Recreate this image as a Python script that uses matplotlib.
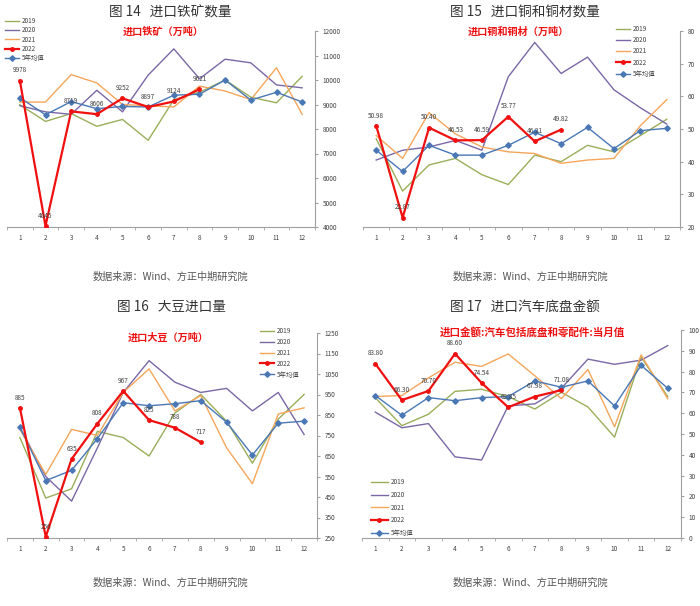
import matplotlib
matplotlib.use("Agg")
import matplotlib.pyplot as plt
import numpy as np

plt.rcParams['font.family'] = ['Noto Sans CJK SC', 'DejaVu Sans']

months = list(range(1, 13))
month_labels = [str(m) for m in months]
series_names = ['2019', '2020', '2021', '2022', '5年均值']

# Panel 14: iron ore imports (万吨)
ore_2019 = [8990, 8310, 8630, 8110, 8390, 7540, 9200, 9500, 10000, 9300, 9070, 10150]
ore_2020 = [8950, 8700, 8600, 9580, 8700, 10200, 11270, 10050, 10850, 10700, 9800, 9680]
ore_2021 = [9100, 9100, 10220, 9880, 9000, 8950, 8900, 9750, 9550, 9200, 10500, 8600]
ore_2022 = [9978, 4045, 8719, 8606, 9252, 8897, 9124, 9621]
ore_avg = [9280, 8580, 9120, 8830, 8920, 8900, 9380, 9420, 10000, 9180, 9500, 9100]

# Panel 15: copper imports (万吨)
cu_2019 = [47, 31, 39, 41, 36, 33, 42, 40, 45, 43, 48, 53]
cu_2020 = [40.5, 43.5, 44.5, 46.5, 43.5, 66, 76.5, 67, 72, 62, 56.5, 51.5]
cu_2021 = [48, 41, 55, 48.5, 44.5, 43, 42.5, 39.5, 40.5, 41, 51, 59]
cu_2022 = [50.98, 22.87, 50.40, 46.53, 46.59, 53.77, 46.21, 49.82]
cu_avg = [43.5, 37, 45, 42, 42, 45, 49, 45.5, 50.5, 44, 49.5, 50.2]

# Panel 16: soybean imports (万吨)
soy_2019 = [740, 445, 490, 770, 740, 650, 860, 950, 820, 615, 830, 950]
soy_2020 = [790, 550, 430, 690, 960, 1115, 1010, 960, 980, 870, 960, 755]
soy_2021 = [780, 560, 780, 750, 960, 1075, 870, 945, 690, 515, 855, 885]
soy_2022 = [885, 256, 635, 808, 967, 825, 788, 717]
soy_avg = [790, 530, 580, 735, 910, 895, 905, 920, 815, 655, 810, 820]

# Panel 17: auto chassis import value
car_2019 = [67.5, 54, 59.5, 70.5, 71.5, 68, 62, 70, 63, 48.5, 87, 68]
car_2020 = [60.5, 53, 55, 39, 37.5, 63.5, 64.5, 72, 86, 83.5, 85.5, 92.5]
car_2021 = [68, 68.5, 77, 84.5, 82.5, 88.5, 78, 67, 81, 53.5, 88, 67]
car_2022 = [83.80, 66.30, 70.70, 88.60, 74.54, 62.85, 67.98, 71.08]
car_avg = [68.5, 59, 67.5, 66, 67.5, 68, 75.5, 72.5, 75.5, 63.5, 83, 72]

colors = {'2019': '#9aae5a', '2020': '#7a68a6', '2021': '#f5a65b',
          '2022': '#f01010', '5年均值': '#4a78b5'}

W, H = 700, 606
fig = plt.figure(figsize=(7, 6.06), dpi=100)
fig.patch.set_facecolor('white')


def fx(x):
    return x / W


def fy(y):
    return 1 - y / H


def make_axes(x0, x1, ytop, ybot):
    return fig.add_axes([fx(x0), fy(ybot), (x1 - x0) / W, (ybot - ytop) / H])


def draw_panel(ax, data, ylim, yticks, ytick_labels, fmt, title, title_xy,
               note, note_xy, note_size, legend_xy, legend_spacing,
               handlelength=2.2):
    y19, y20, y21, y22, yavg = data
    ax.plot(months, y19, color=colors['2019'], lw=1.0, label='2019')
    ax.plot(months, y20, color=colors['2020'], lw=1.0, label='2020')
    ax.plot(months, y21, color=colors['2021'], lw=1.0, label='2021')
    ax.plot(months[:len(y22)], y22, color=colors['2022'], lw=1.6,
            marker='o', ms=2.5, label='2022', zorder=5)
    ax.plot(months, yavg, color=colors['5年均值'], lw=1.0, marker='D',
            ms=2.8, label='5年均值', zorder=4)
    for i, v in enumerate(y22):
        ax.annotate(fmt.format(v), (months[i], v), xytext=(0, 4.5),
                    textcoords='offset points', ha='center', va='bottom',
                    fontsize=4.6, color='#404040', zorder=6)
    ax.set_xlim(0.5, 12.5)
    ax.set_ylim(*ylim)
    ax.set_xticks(months)
    ax.set_xticklabels(month_labels)
    ax.set_xticks(np.arange(0.5, 13, 1), minor=True)
    ax.tick_params(axis='x', which='major', length=0, labelsize=4.6,
                   colors='#404040', pad=5)
    ax.tick_params(axis='x', which='minor', length=2.5, color='#a0a0a0',
                   direction='out')
    ax.yaxis.tick_right()
    ax.set_yticks(yticks)
    ax.set_yticklabels(ytick_labels)
    ax.tick_params(axis='y', length=2.5, color='#a0a0a0', labelsize=4.6,
                   labelcolor='#404040', pad=3)
    for s in ['left', 'top']:
        ax.spines[s].set_visible(False)
    for s in ['bottom', 'right']:
        ax.spines[s].set_color('#a0a0a0')
        ax.spines[s].set_linewidth(0.8)
    fig.text(fx(title_xy[0]), fy(title_xy[1]), title, ha='center',
             va='center', fontsize=9.8, color='#333333')
    fig.text(fx(note_xy[0]), fy(note_xy[1]), note, ha='center', va='center',
             fontsize=note_size, color='#ee1111', fontweight='bold')
    ax.legend(loc='upper left', bbox_to_anchor=(fx(legend_xy[0]), fy(legend_xy[1])),
              bbox_transform=fig.transFigure, frameon=False, fontsize=4.6,
              handlelength=handlelength, handletextpad=0.5, borderpad=0,
              borderaxespad=0, labelspacing=legend_spacing,
              labelcolor='#404040')


ax1 = make_axes(7, 315, 31, 227)
draw_panel(ax1, (ore_2019, ore_2020, ore_2021, ore_2022, ore_avg),
           (4000, 12000), list(range(4000, 12001, 1000)),
           [str(v) for v in range(4000, 12001, 1000)], '{:.0f}',
           '图 14   进口铁矿数量', (170, 12), '进口铁矿（万吨）', (163, 32), 7.3,
           (5, 17), 0.2)

ax2 = make_axes(363, 680, 31, 227)
draw_panel(ax2, (cu_2019, cu_2020, cu_2021, cu_2022, cu_avg),
           (20, 80), list(range(20, 81, 10)),
           [str(v) for v in range(20, 81, 10)], '{:.2f}',
           '图 15   进口铜和铜材数量', (525, 12), '进口铜和铜材（万吨）', (518, 32), 7.3,
           (616, 25), 0.5)

ax3 = make_axes(7, 317, 333, 538)
draw_panel(ax3, (soy_2019, soy_2020, soy_2021, soy_2022, soy_avg),
           (250, 1250), list(range(250, 1251, 100)),
           [str(v) for v in range(250, 1251, 100)], '{:.0f}',
           '图 16   大豆进口量', (171, 307), '进口大豆（万吨）', (168, 338), 7.3,
           (260, 327), 0.45)

ax4 = make_axes(362, 681, 330, 538)
draw_panel(ax4, (car_2019, car_2020, car_2021, car_2022, car_avg),
           (0, 100), list(range(0, 101, 10)),
           [str(v) for v in range(0, 101, 10)], '{:.2f}',
           '图 17   进口汽车底盘金额', (525, 307),
           '进口金额:汽车包括底盘和零配件:当月值', (532, 333), 7.6,
           (371, 478), 0.75, 2.6)

src = '数据来源：Wind、方正中期研究院'
for (x, y) in [(170, 277), (530, 277), (170, 583), (530, 583)]:
    fig.text(fx(x), fy(y), src, ha='center', va='center', fontsize=7.3,
             color='#555555', style='italic')

fig.savefig('out.png', dpi=100, facecolor='white')
